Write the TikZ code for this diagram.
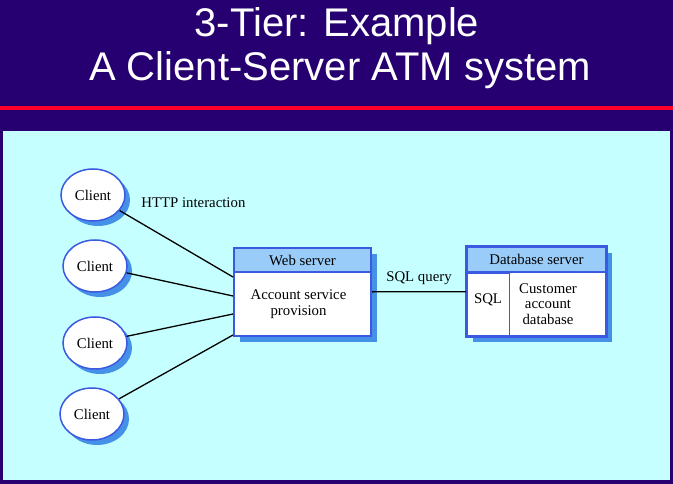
\documentclass[tikz,border=0pt]{standalone}
\usepackage{fontspec}
\setmainfont{Liberation Serif}
\newfontfamily\titlefont{Liberation Sans}
\usetikzlibrary{shapes.geometric,positioning,shadows}
\definecolor{slidebg}{RGB}{38,0,112}
\definecolor{panelcyan}{RGB}{198,255,255}
\definecolor{rulered}{RGB}{255,0,40}
\definecolor{edgeblue}{RGB}{60,90,225}
\definecolor{headblue}{RGB}{153,204,248}
\definecolor{shadeblue}{RGB}{70,145,232}

\begin{document}
\begin{tikzpicture}[x=1pt, y=-1pt, line width=1.3pt]
   \tikzstyle{every node} = [inner sep=0pt, font=\fontsize{14.8}{15.5}\selectfont];
   \tikzstyle{client} = [ellipse, draw=edgeblue, line width=1.5pt, fill=white, minimum width=64pt, minimum height=52pt,
                         copy shadow={shadow xshift=5pt, shadow yshift=-5pt, draw=none, fill=shadeblue}];
   \tikzstyle{box} = [rectangle, draw=edgeblue, line width=2pt, fill=white,
                      copy shadow={shadow xshift=6pt, shadow yshift=-6pt, draw=none, fill=shadeblue}];
   \tikzstyle{head} = [rectangle, draw=edgeblue, line width=2pt, fill=headblue, anchor=north];
   \tikzstyle{title} = [anchor=base, text=white, font=\titlefont\fontsize{40}{40}\selectfont];
   % slide
   \fill[slidebg] (0,0) rectangle (673,484);
   \useasboundingbox (0,0) rectangle (673,484);
   \fill[rulered] (0,106) rectangle (673,110);
   \fill[panelcyan] (3,131) rectangle (670,480);
   \node[title] (t1) at (337,37) {3-Tier: Example};
   \node[title] (t2) at (340,81) {A Client-Server ATM system};
   % clients
   \node[client] (a) at (93,195) {Client};
   \node[client] (b) at (95,266) {Client};
   \node[client] (c) at (95,343) {Client};
   \node[client] (d) at (92,414) {Client};
   \node[] (m) [right=15pt of a, yshift=-8pt] {HTTP interaction};
   % web server
   \node[box, minimum width=137pt, minimum height=88pt] (e) at (302.5,292) {};
   \node[head, minimum width=137pt, minimum height=24pt] (f) at (e.north) {Web server};
   \node[align=center] (g) [below=16.5pt of f, xshift=-4pt] {Account service\\provision};
   % database server
   \node[box, minimum width=139pt, minimum height=89pt] (h) at (536.5,291.5) {};
   \node[head, minimum width=139pt, minimum height=25pt] (i) at (h.north) {Database server};
   \node[rectangle, draw=edgeblue, line width=1pt, anchor=north west, minimum width=43pt, minimum height=64pt] (j) at (i.south west) {};
   \node[] (k) [below=20pt of j.north] {SQL};
   \node[align=center, anchor=north] (l) at (548,283) {Customer\\account\\database};
   \draw[edgeblue, line width=2pt] (h.north west) rectangle (h.south east);
   % connectors
   \coordinate (p) at ([yshift=15pt]e.west);
   \coordinate (q) at ([yshift=-4pt]e.west);
   \coordinate (r) at ([yshift=-22pt]e.west);
   \coordinate (s) at ([yshift=-43pt]e.west);
   \path (a) edge (p);
   \path (b) edge (q);
   \path (c) edge (r);
   \path (d) edge (s);
   \path (e) edge node[above=6pt] (n) {SQL query} (h);
\end{tikzpicture}
\end{document}
